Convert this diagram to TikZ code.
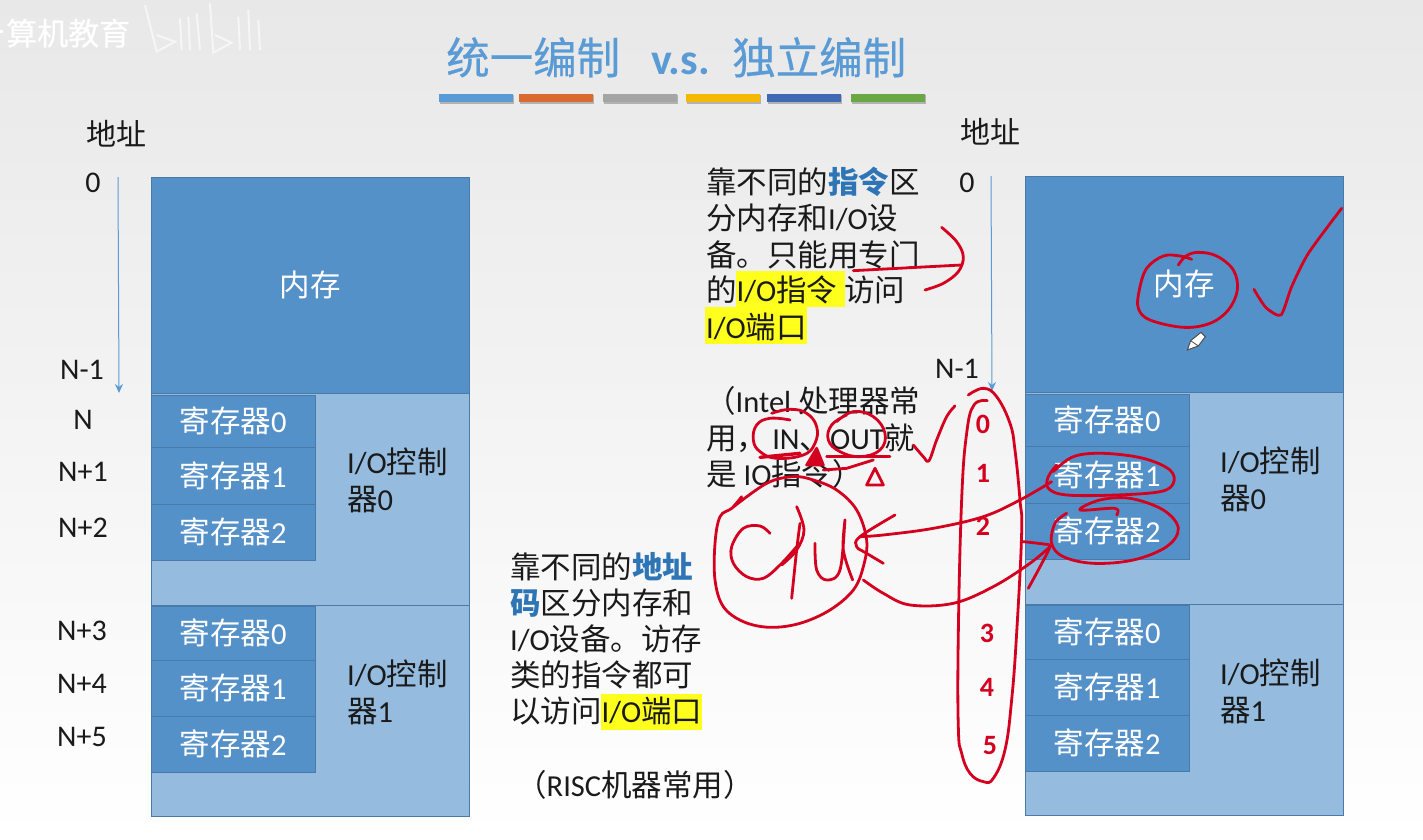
\documentclass[tikz,border=0pt]{standalone}
\usepackage{fontspec}
\setmainfont{Carlito}
\newfontfamily\cjfont{Noto Sans CJK SC}
\newfontfamily\cjmid[FakeBold=0.5]{Noto Sans CJK SC}
\newcommand{\zh}[1]{{\cjfont #1}}
\usetikzlibrary{arrows.meta}
\definecolor{memblue}{HTML}{5591C9}
\definecolor{ctlblue}{HTML}{95BBDF}
\definecolor{edgeblue}{HTML}{4A7AA8}
\definecolor{titleblue}{HTML}{5B9BD5}
\definecolor{keyblue}{HTML}{2E75B6}
\definecolor{ink}{HTML}{D4001F}
\definecolor{txt}{HTML}{1A1A1A}
\definecolor{mark}{HTML}{FFFF1E}
\tikzset{
  block/.style={draw=edgeblue,line width=0.8pt,anchor=north west,inner sep=0pt,outer sep=0pt,text=white,font=\fontsize{30.5}{37}\selectfont},
  membox/.style={block,fill=memblue,minimum width=318pt,minimum height=216pt},
  ctlbox/.style={block,fill=ctlblue,minimum width=318pt},
  regbox/.style={block,fill=memblue,minimum width=164pt},
  lbl/.style={anchor=base west,inner sep=0pt,text=txt,font=\fontsize{30.5}{37}\selectfont},
  addr/.style={anchor=base,inner sep=0pt,text=txt,font=\fontsize{30}{37}\selectfont},
  ctltext/.style={anchor=west,inner sep=0pt,align=left,text=txt,font=\fontsize{30.5}{37}\selectfont},
  redno/.style={anchor=center,inner sep=0pt,text=ink,font=\fontsize{28}{34}\selectfont\bfseries},
  addrarrow/.style={draw=titleblue,line width=1pt,-{Stealth[length=9pt,width=8pt]}},
  hand/.style={draw=ink,line width=2.8pt,line cap=round,line join=round},
  barbox/.style={anchor=north west,inner sep=0pt,outer sep=0pt,minimum width=74pt,minimum height=8pt},
  hilite/.style={fill=mark,draw=none},
  zoneA/.style={shift={(690,150)},x=0.3333pt,y=-0.3333pt},
  zoneB/.style={shift={(700,400)},x=0.3333pt,y=-0.3333pt},
  zoneC/.style={shift={(1100,180)},x=0.3333pt,y=-0.3333pt},
  zoneD/.style={x=0.3333pt,y=-0.3333pt},
}
\begin{document}
\begin{tikzpicture}[x=1pt,y=-1pt]
\useasboundingbox (0,0) rectangle (1423,839);
\shade[top color=black!9,bottom color=white] (0,0) rectangle (1423,839);

% watermark
\node[anchor=base west,inner sep=0pt,text=white,font=\fontsize{31}{34}\selectfont] (wm) at (6,45) {{\cjmid 算机教育}};
\fill[white] (0,30) rectangle (3,33);
\begin{scope}[zoneD,draw=white,line width=2pt,opacity=.6]
\draw (435,15)--(470,155)--(525,125)--(470,105);
\draw (540,55)--(545,150) (565,50)--(570,150) (590,40)--(600,150);
\draw (630,10)--(640,158)--(695,128)--(645,105);
\draw (715,50)--(720,150) (745,30)--(750,150) (775,60)--(780,150);
\end{scope}

% title
\node[anchor=base west,inner sep=0pt,text=titleblue,font=\fontsize{43.5}{50}\selectfont] (tl) at (446,74) {{\cjmid 统一编制}};
\node[anchor=base west,inner sep=0pt,text=titleblue,font=\fontsize{44}{50}\selectfont\bfseries] (tm) at (651,74) {v.s.};
\node[anchor=base west,inner sep=0pt,text=titleblue,font=\fontsize{43.5}{50}\selectfont] (tr) at (732,74) {{\cjmid 独立编制}};
\foreach \i/\xx/\cc in {a/439/5B9BD5,b/519/D96B2E,c/603/A5A5A5,d/686/F5B800,e/767/3F69B5,f/851/6AA843}{
  \definecolor{barc}{HTML}{\cc}
  \fill[black!30] (\xx+1,95) rectangle (\xx+75,104);
  \node[barbox,fill=barc] (bar\i) at (\xx,94) {};
}

% left column
\node[membox] (mL) at (151,177) {\zh{内存}};
\node[ctlbox,minimum height=212pt] (c0L) at (151,393) {};
\node[ctlbox,minimum height=211pt] (c1L) at (151,605) {};
\node[regbox,minimum height=52pt] (r00L) at (151,395) {\zh{寄存器}0};
\node[regbox,minimum height=57pt] (r01L) at (151,447) {\zh{寄存器}1};
\node[regbox,minimum height=56pt] (r02L) at (151,504) {\zh{寄存器}2};
\node[regbox,minimum height=54pt] (r10L) at (151,606) {\zh{寄存器}0};
\node[regbox,minimum height=56pt] (r11L) at (151,660) {\zh{寄存器}1};
\node[regbox,minimum height=56pt] (r12L) at (151,716) {\zh{寄存器}2};
\node[ctltext] (t0L) at (347,480) {I/O\zh{控制}\\\zh{器}0};
\node[ctltext] (t1L) at (347,692) {I/O\zh{控制}\\\zh{器}1};

% right column
\node[membox] (mR) at (1025,176) {\zh{内存}};
\node[ctlbox,minimum height=212pt] (c0R) at (1025,392) {};
\node[ctlbox,minimum height=211pt] (c1R) at (1025,604) {};
\node[regbox,minimum height=52pt] (r00R) at (1025,394) {\zh{寄存器}0};
\node[regbox,minimum height=57pt] (r01R) at (1025,446) {\zh{寄存器}1};
\node[regbox,minimum height=56pt] (r02R) at (1025,503) {\zh{寄存器}2};
\node[regbox,minimum height=54pt] (r10R) at (1025,605) {\zh{寄存器}0};
\node[regbox,minimum height=56pt] (r11R) at (1025,659) {\zh{寄存器}1};
\node[regbox,minimum height=56pt] (r12R) at (1025,715) {\zh{寄存器}2};
\node[ctltext] (t0R) at (1220,479) {I/O\zh{控制}\\\zh{器}0};
\node[ctltext] (t1R) at (1220,691) {I/O\zh{控制}\\\zh{器}1};

% addresses
\node[addr] (adL) at (116,145) {\zh{地址}};
\node[addr] (a0L) at (93,192) {0};
\node[addr] (anL) at (82,379) {N-1};
\node[addr] (a1L) at (83,429) {N};
\node[addr] (a2L) at (83,481) {N+1};
\node[addr] (a3L) at (83,537) {N+2};
\node[addr] (a4L) at (82,640) {N+3};
\node[addr] (a5L) at (82,693) {N+4};
\node[addr] (a6L) at (82,746) {N+5};
\node[addr] (adR) at (990,143) {\zh{地址}};
\node[addr] (a0R) at (967,192) {0};
\node[addr] (anR) at (957,378) {N-1};
\coordinate (arL1) at (118,177);
\coordinate (arL2) at (119,393);
\coordinate (arR1) at (991,176);
\coordinate (arR2) at (992,391);
\draw[addrarrow] (arL1)--(arL2);
\draw[addrarrow] (arR1)--(arR2);

% highlights
\fill[hilite] (736,271) rectangle (845,307);
\fill[hilite] (705,307) rectangle (807,344);
\fill[hilite] (601,694) rectangle (702,730);

% upper note
\node[lbl] (n1) at (706,193) {\zh{靠不同的}{\color{keyblue}\cjfont\bfseries 指令}\zh{区}};
\node[lbl] (n2) at (706,229) {\zh{分内存和}I/O\zh{设}};
\node[lbl] (n3) at (706,266) {\zh{备。只能用专门}};
\node[lbl] (n4) at (706,301) {\zh{的}I/O\zh{指令} \zh{访问}};
\node[lbl] (n5) at (706,338) {I/O\zh{端口}};
\node[lbl] (n6) at (705,412) {\zh{（}Intel \zh{处理器常}};
\node[lbl] (n7) at (706,449) {\zh{用，}\,IN\zh{、}OUT\zh{就}};
\node[lbl] (n8) at (706,485) {\zh{是} IO\zh{指令）}};

% lower note
\node[lbl] (m1) at (510,578) {\zh{靠不同的}{\color{keyblue}\cjfont\bfseries 地址}};
\node[lbl] (m2) at (510,614) {{\color{keyblue}\cjfont\bfseries 码}\zh{区分内存和}};
\node[lbl] (m3) at (510,650) {I/O\zh{设备。访存}};
\node[lbl] (m4) at (510,686) {\zh{类的指令都可}};
\node[lbl] (m5) at (510,722) {\zh{以访问}I/O\zh{端口}};
\node[lbl] (m6) at (516,796) {\zh{（}RISC\zh{机器常用）}};

% red digits
\node[redno] (d0) at (983,424) {0};
\node[redno] (d1) at (983,473) {1};
\node[redno] (d2) at (983,526) {2};
\node[redno] (d3) at (987,633) {3};
\node[redno] (d4) at (987,687) {4};
\node[redno] (d5) at (990,746) {5};

% freehand strokes, traced in zoom coordinates
\begin{scope}[zoneA]
\draw[hand] (490,362)--(815,345);
\draw[hand] plot[smooth,tension=.6] coordinates {(755,232)(800,275)(820,320)(805,365)(760,400)(705,420)};
\draw[hand] plot[smooth,tension=.6] coordinates {(670,885)(700,920)(717,932)(740,870)(770,800)(795,768)};
\draw[hand] plot[smooth,tension=.7] coordinates {(245,790)(300,778)(350,790)(380,830)(375,880)(340,915)(260,925)(210,905)(190,870)(200,825)(240,805)(300,810)};
\draw[hand] plot[smooth,tension=.7] coordinates {(440,815)(490,785)(550,800)(585,850)(570,900)(510,920)(450,905)(415,870)(425,825)(470,795)};
\end{scope}
\begin{scope}[zoneB]
\draw[hand] plot[smooth,tension=.7] coordinates {(805,-15)(850,-35)(890,-10)(930,70)(945,150)(960,300)(965,400)(950,700)(935,900)(915,1050)(880,1135)(850,1145)(810,1120)(785,1060)(775,980)(775,700)(785,300)(800,100)(822,15)(862,2)};
\draw[hand,line width=3.4pt] (180,172)--(300,160);
\draw[hand] (380,170)--(570,170);
\draw[hand,fill=ink] (350,145)--(320,195)--(370,195)--cycle;
\draw[hand] (370,210)--(440,205)--(520,180);
\draw[hand] (525,205)--(500,255)--(550,255)--cycle;
\draw[hand] plot[smooth,tension=.6] coordinates {(125,290)(95,325)(60,350)(45,430)(45,540)(70,620)(130,665)(210,682)(300,670)(390,630)(460,570)(490,500)(500,420)(470,330)(410,270)(340,240)(280,230)(200,250)(95,325)};
\draw[hand] plot[smooth,tension=.6] coordinates {(210,400)(180,378)(130,385)(95,440)(100,490)(140,530)(190,535)(240,495)(290,440)};
\draw[hand] plot[smooth,tension=.6] coordinates {(290,320)(312,390)(290,450)(245,495)};
\draw[hand] plot[smooth,tension=.6] coordinates {(300,370)(290,450)(275,595)};
\draw[hand] plot[smooth,tension=.6] coordinates {(345,430)(350,510)(380,540)(420,510)(435,360)(430,450)(458,540)};
\draw[hand] plot[smooth,tension=.6] coordinates {(1055,245)(960,300)(850,350)(700,385)(550,405)(480,410)};
\draw[hand] plot[smooth,tension=.6] coordinates {(585,345)(480,410)(470,440)(500,460)(550,490)};
\draw[hand] plot[smooth,tension=.6] coordinates {(490,540)(550,580)(630,615)(760,610)(880,560)(990,490)(1050,440)};
\draw[hand] plot[smooth,tension=.4] coordinates {(970,425)(1030,432)(1050,440)(1015,510)(985,565)};
\draw[hand] plot[smooth,tension=.6] coordinates {(1060,215)(1120,170)(1210,160)(1330,175)(1410,210)(1420,250)(1380,275)(1250,285)(1100,285)(1045,265)(1045,230)(1070,195)};
\draw[hand] plot[smooth,tension=.6] coordinates {(1250,345)(1245,325)(1140,330)(1200,300)(1290,295)(1390,330)(1435,385)(1400,440)(1300,480)(1180,490)(1090,470)(1055,430)(1065,370)(1100,340)};
\end{scope}
\begin{scope}[zoneC]
\draw[hand] plot[smooth,tension=.6] coordinates {(275,238)(240,228)(190,228)(140,265)(118,330)(115,385)(150,420)(250,442)(330,430)(385,390)(412,330)(400,270)(350,228)(295,217)(258,228)(235,255)};
\draw[hand] plot[smooth,tension=.4] coordinates {(725,85)(625,220)(575,320)(543,405)(500,385)(475,350)(462,328)};
\draw[fill=white,draw=black!70,line width=1pt] (262,510)--(272,482)--(303,457)--(316,470)--(295,498)--cycle;
\draw[draw=black!70,line width=.8pt] (272,482)--(295,498);
\end{scope}
\end{tikzpicture}
\end{document}
